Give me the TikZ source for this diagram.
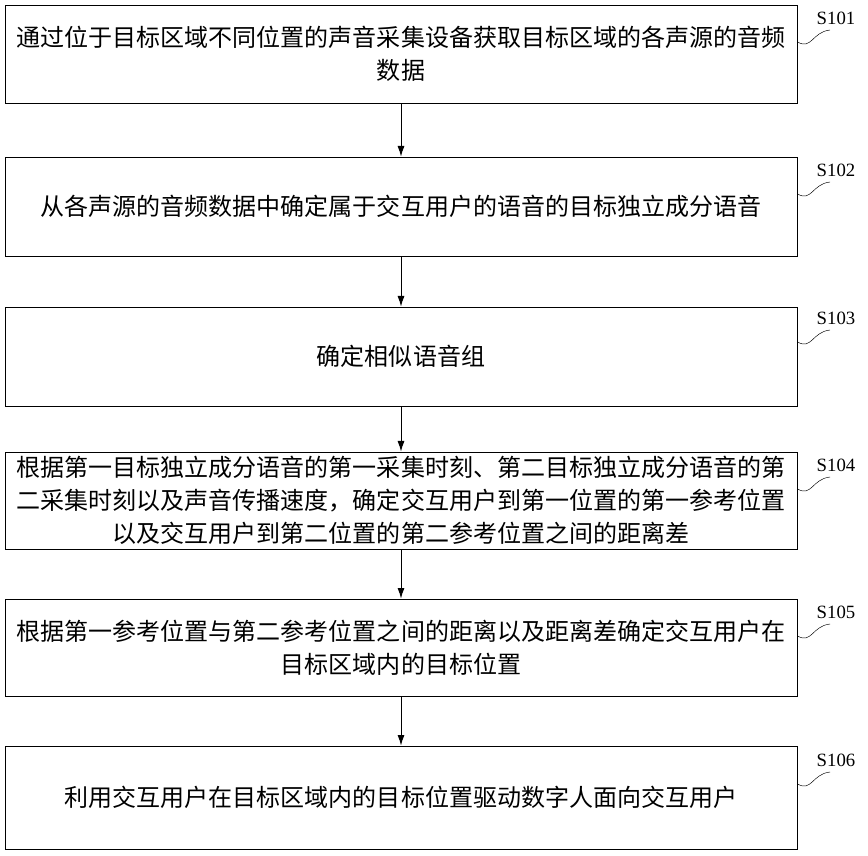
\documentclass[tikz,border=0pt]{standalone}
\usepackage{fontspec}
\setmainfont{Liberation Serif}
\newfontfamily\cjk{Noto Sans CJK SC}
\usetikzlibrary{arrows.meta}
\begin{document}
\begin{tikzpicture}[x=0.03cm,y=-0.03cm]
\tikzset{stepbox/.style={draw,thick,minimum width=792*0.03cm,inner sep=0pt,align=center,font=\cjk\fontsize{20.5}{28}\selectfont},
  tag/.style={font=\fontsize{16}{18}\selectfont},
  flow/.style={thick,-{Latex[length=9pt,width=6pt]}}}
\useasboundingbox (0,0) rectangle (868,855);
\node [stepbox,minimum height=98*0.03cm] (s1) at (401,54) {通过位于目标区域不同位置的声音采集设备获取目标区域的各声源的音频\\数据};
\node [stepbox,minimum height=99*0.03cm] (s2) at (401,206.5) {从各声源的音频数据中确定属于交互用户的语音的目标独立成分语音};
\node [stepbox,minimum height=99*0.03cm] (s3) at (401,356.5) {确定相似语音组};
\node [stepbox,minimum height=97*0.03cm] (s4) at (401,500.5) {根据第一目标独立成分语音的第一采集时刻、第二目标独立成分语音的第\\二采集时刻以及声音传播速度，确定交互用户到第一位置的第一参考位置\\以及交互用户到第二位置的第二参考位置之间的距离差};
\node [stepbox,minimum height=97*0.03cm] (s5) at (401,647.5) {根据第一参考位置与第二参考位置之间的距离以及距离差确定交互用户在\\目标区域内的目标位置};
\node [stepbox,minimum height=103*0.03cm] (s6) at (401,797.5) {利用交互用户在目标区域内的目标位置驱动数字人面向交互用户};
\draw [flow] (s1) -- (s2);
\draw [flow] (s2) -- (s3);
\draw [flow] (s3) -- (s4);
\draw [flow] (s4) -- (s5);
\draw [flow] (s5) -- (s6);
% step labels with wavy leaders
\foreach \n/\y/\t in {s1/18/S101,s2/170/S102,s3/318/S103,s4/465/S104,s5/612/S105,s6/760/S106}{
  \node [tag] (l\n) at (836,\y) {\t};
  \draw (s1.east |- 0,\y+24) .. controls (812,\y+32) and (812,\y+14) .. (830,\y+12);
}
\end{tikzpicture}
\end{document}
